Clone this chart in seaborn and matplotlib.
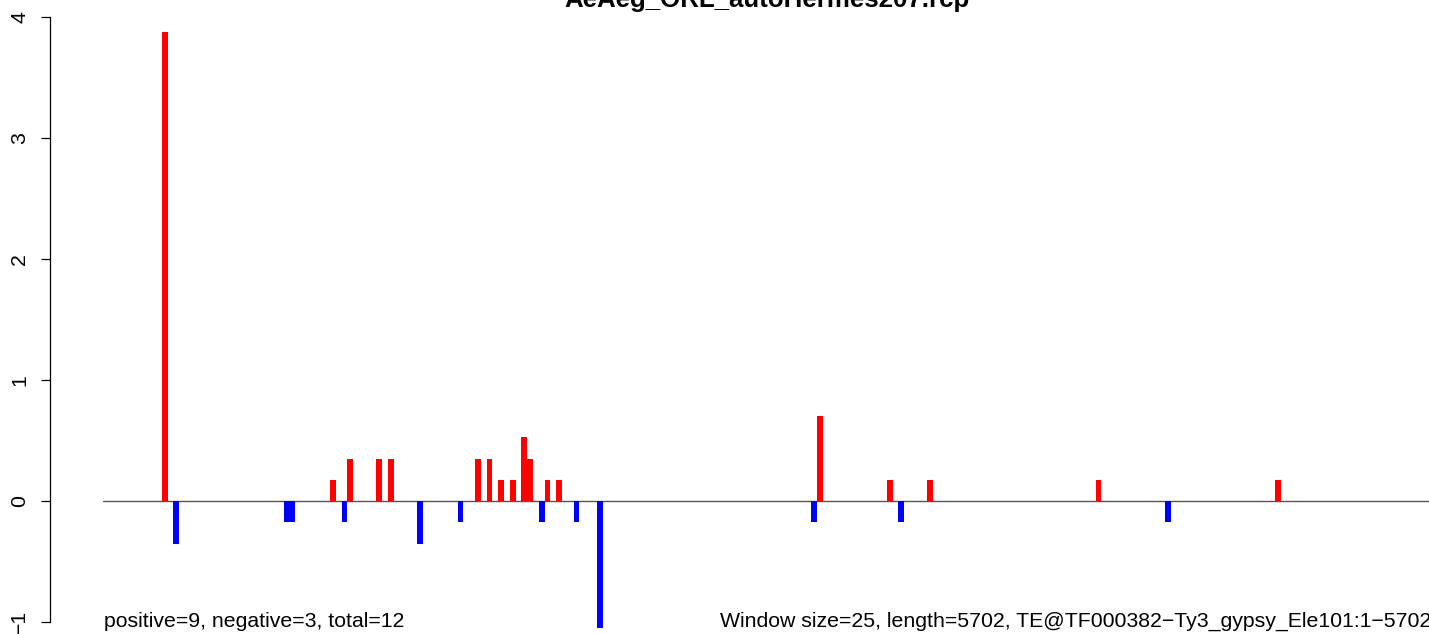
import numpy as np
import pandas as pd
import matplotlib
matplotlib.use("Agg")
import matplotlib.pyplot as plt
import seaborn as sns

# window start positions (bp) and scores, + strand (red) and - strand (blue)
plus_pos = [25, 750, 825, 950, 1000, 1375, 1425, 1475, 1525, 1575, 1600,
            1675, 1725, 2850, 3150, 3325, 4050, 4825]
plus_val = [3.876, 0.174, 0.347, 0.347, 0.347, 0.347, 0.347, 0.174, 0.174,
            0.53, 0.347, 0.174, 0.174, 0.70, 0.174, 0.174, 0.174, 0.174]
minus_pos = [75, 550, 575, 800, 1125, 1300, 1650, 1800, 1900, 2825, 3200, 4350]
minus_val = [-0.355, -0.174, -0.174, -0.174, -0.355, -0.174, -0.174, -0.174,
             -1.05, -0.174, -0.174, -0.174]

yticks = [-1, 0, 1, 2, 3, 4]
title = "AeAeg_ORL_autoHermes207.rcp"
left_note = "positive=9, negative=3, total=12"
right_note = "Window size=25, length=5702, TE@TF000382\u2212Ty3_gypsy_Ele101:1\u22125702"

df = pd.DataFrame({
    "pos": plus_pos + minus_pos,
    "score": plus_val + minus_val,
    "strand": ["+"] * len(plus_pos) + ["-"] * len(minus_pos),
})

sns.set_style("ticks")
plt.rcParams["font.family"] = ["Liberation Sans", "DejaVu Sans"]
plt.rcParams["text.color"] = "black"
plt.rcParams["ytick.color"] = "black"
plt.rcParams["axes.edgecolor"] = "black"

W, H = 1429, 634
fig = plt.figure(figsize=(W / 100, H / 100), dpi=100)
ax = fig.add_axes([103 / W, 0, 1 - 103 / W, 1])

ax.axhline(0, color="#555555", lw=1.0, zorder=1)
sns.barplot(data=df, x="pos", y="score", hue="strand",
            palette={"+": "red", "-": "blue"}, native_scale=True,
            dodge=False, width=1, saturation=1, errorbar=None,
            linewidth=0, legend=False, ax=ax, zorder=2)

# pixel = 158.9 + pos * 0.232
ax.set_xlim((103 - 158.9) / 0.232, (W - 158.9) / 0.232)
ax.set_ylim(-1 - 12 / 121, 4 + 17 / 121)

sns.despine(ax=ax, bottom=True, offset={"left": 53.5 * 72 / 100})
ax.spines["left"].set_bounds(-1, 4)
ax.spines["left"].set_linewidth(0.9)
ax.spines["left"].set_color("black")
ax.set_xticks([])
ax.set_yticks(yticks)
ax.set_yticklabels([f"{t}".replace("-", "\u2212") for t in yticks],
                   rotation=90, va="center", fontsize=15.3, color="black")
ax.tick_params(axis="y", length=6.5, width=0.9, pad=8, color="black")
ax.set_xlabel("")
ax.set_ylabel("")

fig.text(767 / W, 1 - 7 / H, title, ha="center", va="baseline",
         fontsize=18.6, fontweight="bold", color="black")
fig.text(104 / W, 1 - 627 / H, left_note, ha="left", va="baseline",
         fontsize=15.3, color="black")
fig.text(720 / W, 1 - 627 / H, right_note, ha="left", va="baseline",
         fontsize=15.3, color="black")

fig.savefig("out.png", dpi=100)
